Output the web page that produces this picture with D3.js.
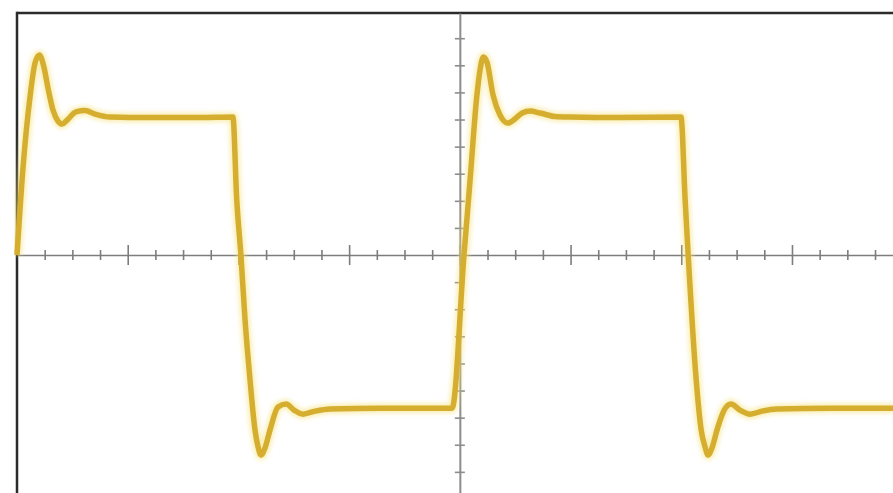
<!DOCTYPE html>
<html>
<head>
<meta charset="utf-8">
<script src="https://cdn.jsdelivr.net/npm/d3@7"></script>
<style>
  html, body { margin: 0; padding: 0; background: #ffffff; overflow: hidden; }
  svg { display: block; }
</style>
</head>
<body>
<svg id="chart" width="893" height="493"></svg>
<script>
// ---- data (time in minor divisions, voltage in minor divisions) ----
const time = [
  0, 0.23, 0.47, 0.65, 0.81, 0.98, 1.12, 1.30, 1.48, 1.63, 1.81, 2.13, 2.46, 2.82, 3.36, 4.81, 6.61,
  7.80, 7.94, 8.09, 8.24, 8.42, 8.60, 8.71, 8.82, 8.96, 9.14, 9.43, 9.72, 10.01, 10.33, 10.77, 11.31, 13.12,
  15.72, 16.15, 16.37, 16.61, 16.73, 16.85, 16.98, 17.20, 17.45, 17.74, 17.99, 18.25, 18.54, 18.90, 19.44, 19.98, 21.79,
  23.99, 24.14, 24.25, 24.54, 24.72, 24.86, 24.97, 25.11, 25.29, 25.55, 25.80, 26.12, 26.49, 26.92, 27.46, 29.38, 31.65
];
const volts = [
  0, 3.39, 5.83, 7.08, 7.38, 6.90, 6.16, 5.35, 4.94, 4.83, 4.98, 5.28, 5.33, 5.20, 5.09, 5.07, 5.07,
  5.09, 2.03, 0, -2.40, -4.61, -6.46, -7.08, -7.38, -7.12, -6.46, -5.61, -5.50, -5.72, -5.87, -5.76, -5.68, -5.65,
  -5.65, 0, 2.77, 5.83, 6.83, 7.31, 7.12, 5.90, 5.17, 4.87, 5.02, 5.24, 5.31, 5.24, 5.11, 5.09, 5.07,
  5.09, 2.03, 0, -4.61, -6.46, -7.08, -7.38, -7.12, -6.46, -5.72, -5.50, -5.72, -5.87, -5.76, -5.68, -5.65, -5.65
];
const xTickValues = [1,2,3,4,5,6,7,8,9,10,11,12,13,14,15,16,17,18,19,20,21,22,23,24,25,26,27,28,29,30,31];
const xMajorTicks = [4, 8, 12, 16, 20, 24, 28];
const yTickValues = [-8,-7,-6,-5,-4,-3,-2,-1,1,2,3,4,5,6,7,8];
const xDomain = [0, 31.65];
const yDomain = [-8.78, 8.93];
const xCenter = 16; // time where vertical axis sits

// ---- drawing ----
const W = 893, H = 493;
const padL = 17, padT = 13;
const svg = d3.select("#chart");

const x = d3.scaleLinear().domain(xDomain).range([padL, W]);
const y = d3.scaleLinear().domain(yDomain).range([H, padT]);

const defs = svg.append("defs");
defs.append("clipPath").attr("id", "plotClip")
  .append("rect").attr("x", padL - 3).attr("y", padT).attr("width", W - padL + 3).attr("height", H - padT);
const blur = defs.append("filter").attr("id", "glow").attr("x", "-10%").attr("y", "-10%").attr("width", "120%").attr("height", "120%");
blur.append("feGaussianBlur").attr("stdDeviation", 2);

// frame (top and left edges visible)
svg.append("line").attr("x1", padL).attr("x2", W).attr("y1", padT).attr("y2", padT)
  .attr("stroke", "#2b2b2b").attr("stroke-width", 2.5);
svg.append("line").attr("x1", padL).attr("x2", padL).attr("y1", padT - 1.2).attr("y2", H)
  .attr("stroke", "#2b2b2b").attr("stroke-width", 2.5);

// horizontal axis through zero
const xAxis = d3.axisBottom(x).tickValues(xTickValues).tickSize(0).tickFormat("");
const gx = svg.append("g").attr("transform", `translate(0,${y(0)})`).call(xAxis);
gx.select(".domain").attr("stroke", "#7d7d7d").attr("stroke-width", 1.6);
gx.selectAll(".tick line")
  .attr("y1", d => xMajorTicks.includes(d) ? -10 : -5)
  .attr("y2", d => xMajorTicks.includes(d) ? 10 : 5)
  .attr("stroke", "#7d7d7d").attr("stroke-width", 1.6);

// vertical axis through the centre
const yAxis = d3.axisLeft(y).tickValues(yTickValues).tickSize(0).tickFormat("");
const gy = svg.append("g").attr("transform", `translate(${x(xCenter)},0)`).call(yAxis);
gy.select(".domain").attr("stroke", "#8c8c8c").attr("stroke-width", 2);
gy.selectAll(".tick line").attr("x1", -5).attr("x2", 5)
  .attr("stroke", "#8c8c8c").attr("stroke-width", 1.6);

// waveform
const pts = time.map((t, i) => [t, volts[i]]);
const line = d3.line().x(d => x(d[0])).y(d => y(d[1])).curve(d3.curveMonotoneX);
const g = svg.append("g").attr("clip-path", "url(#plotClip)");
g.append("path").datum(pts).attr("d", line)
  .attr("fill", "none").attr("stroke", "#f6e27a").attr("stroke-width", 10)
  .attr("stroke-linejoin", "round").attr("opacity", 0.55).attr("filter", "url(#glow)");
g.append("path").datum(pts).attr("d", line)
  .attr("fill", "none").attr("stroke", "#d5ae30").attr("stroke-width", 5.5)
  .attr("stroke-linejoin", "round").attr("stroke-linecap", "butt");
</script>
</body>
</html>
